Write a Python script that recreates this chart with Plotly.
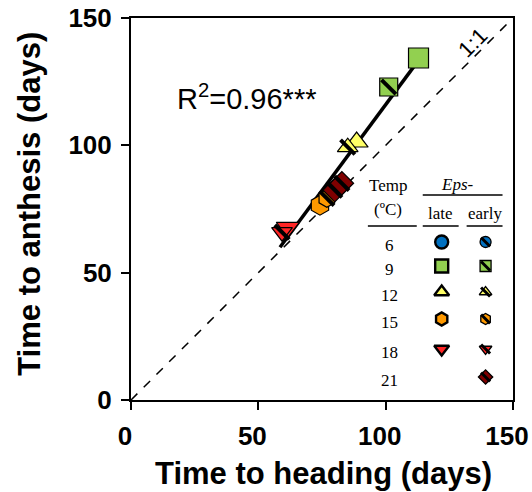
import plotly.graph_objects as go

# ---- data ----
temps = ["6", "9", "12", "15", "18", "21"]
temp_colors = ["#0070C0", "#92D050", "#FFFF66", "#FF9900", "#FF2626", "#7F0000"]
temp_symbols = ["circle", "square", "triangle-up", "hexagon", "triangle-down", "diamond"]

pt_temp = ["9", "9", "12", "12", "15", "15", "18", "18", "21", "21"]
pt_eps = ["late", "early", "late", "early", "late", "early", "late", "early", "early", "early"]
pt_heading = [112.9, 101.2, 88.6, 85.1, 74.2, 76.9, 61.6, 59.3, 80.0, 82.8]
pt_anthesis = [134.3, 122.9, 101.3, 99.3, 76.5, 79.2, 67.8, 65.9, 82.4, 85.1]

fit_heading = [58.5, 111.5]
fit_anthesis = [60.0, 131.5]

one_to_one = [0, 150]

legend_late = [True, True, True, True, True, False]
legend_early = [True, True, True, True, True, True]

x_ticks = [0, 50, 100, 150]
y_ticks = [0, 50, 100, 150]

# ---- layout geometry (screen pixels; body margin removed below) ----
W, H = 532, 492
SL, SR, ST, SB = 130.5, 513.5, 18, 400   # plot area edges in screenshot pixels
L, T = SL, ST
R = W - SR
B = H - SB
PW, PH = SR - SL, SB - ST


def px2x(px):
    return (px - SL) / PW * 150


def py2y(py):
    return (SB - py) / PH * 150


SANS = "Liberation Sans, Arial, sans-serif"
SERIF = "Liberation Serif, Times New Roman, serif"

fig = go.Figure()

# 1:1 line
fig.add_trace(go.Scatter(x=one_to_one, y=one_to_one, mode="lines",
                         line=dict(color="black", width=1.5, dash="dash"),
                         hoverinfo="skip", showlegend=False))
# regression line
fig.add_trace(go.Scatter(x=fit_heading, y=fit_anthesis, mode="lines",
                         line=dict(color="black", width=3.5),
                         hoverinfo="skip", showlegend=False))

# data points
for i in range(len(pt_heading)):
    k = temps.index(pt_temp[i])
    early = pt_eps[i] == "early"
    size = 18 if early else 20
    fig.add_trace(go.Scatter(
        x=[pt_heading[i]], y=[pt_anthesis[i]], mode="markers",
        marker=dict(symbol=temp_symbols[k], color=temp_colors[k], size=size,
                    line=dict(color="black", width=1.2)),
        showlegend=False, cliponaxis=False))
    if early:
        fig.add_trace(go.Scatter(
            x=[pt_heading[i]], y=[pt_anthesis[i]], mode="markers",
            marker=dict(symbol="line-nw", size=size * 0.8,
                        line=dict(color="black", width=4)),
            showlegend=False, hoverinfo="skip"))

# legend table (text + markers)
row_py = [245, 269, 295, 322, 352, 380]
late_px, early_px, temp_px = 442, 486, 390
leg_font = dict(family=SERIF, size=17, color="black")
for j, t in enumerate(temps):
    fig.add_annotation(x=px2x(temp_px), y=py2y(row_py[j]), text=t, showarrow=False,
                       font=leg_font, xanchor="center", yanchor="middle")
    my = py2y(row_py[j] - 3)
    if legend_late[j]:
        fig.add_trace(go.Scatter(
            x=[px2x(late_px)], y=[my], mode="markers",
            marker=dict(symbol=temp_symbols[j], color=temp_colors[j], size=13,
                        line=dict(color="black", width=2.4)),
            showlegend=False, hoverinfo="skip", cliponaxis=False))
    if legend_early[j]:
        fig.add_trace(go.Scatter(
            x=[px2x(early_px)], y=[my], mode="markers",
            marker=dict(symbol=temp_symbols[j], color=temp_colors[j], size=11,
                        line=dict(color="black", width=1.3)),
            showlegend=False, hoverinfo="skip", cliponaxis=False))
        fig.add_trace(go.Scatter(
            x=[px2x(early_px)], y=[my], mode="markers",
            marker=dict(symbol="line-nw", size=9,
                        line=dict(color="black", width=3)),
            showlegend=False, hoverinfo="skip", cliponaxis=False))

fig.add_annotation(x=px2x(388), y=py2y(185), text="Temp", showarrow=False, font=leg_font)
fig.add_annotation(x=px2x(388), y=py2y(209), text="(ºC)", showarrow=False, font=leg_font)
fig.add_annotation(x=px2x(458), y=py2y(184), text="<i>Eps-</i>", showarrow=False, font=leg_font)
fig.add_annotation(x=px2x(441), y=py2y(213), text="late", showarrow=False, font=leg_font)
fig.add_annotation(x=px2x(485), y=py2y(213), text="early", showarrow=False, font=leg_font)

for (x0, x1, yy) in [(368, 417, 226), (423, 459, 226), (467, 503, 226), (423, 503, 195)]:
    fig.add_shape(type="line", xref="x", yref="y", x0=px2x(x0), x1=px2x(x1),
                  y0=py2y(yy), y1=py2y(yy), line=dict(color="black", width=1.3))

# R2 text and 1:1 label
fig.add_annotation(x=px2x(246), y=py2y(97), text="R<sup>2</sup>=0.96***", showarrow=False,
                   font=dict(family=SANS, size=29, color="black"))
fig.add_annotation(x=px2x(473), y=py2y(42), text="1:1", showarrow=False, textangle=-45,
                   font=dict(family=SANS, size=22, color="black"))

# axis titles as annotations (paper coords from screen pixel positions)
fig.add_annotation(xref="paper", yref="paper", x=(324 - SL) / PW, y=(SB - 473) / PH,
                   text="<b>Time to heading (days)</b>", showarrow=False,
                   font=dict(family=SANS, size=31, color="black"),
                   xanchor="center", yanchor="middle")
fig.add_annotation(xref="paper", yref="paper", x=(28 - SL) / PW, y=(SB - 204) / PH,
                   text="<b>Time to anthesis (days)</b>", showarrow=False, textangle=-90,
                   font=dict(family=SANS, size=31, color="black"),
                   xanchor="center", yanchor="middle")

axis_common = dict(range=[0, 150], showgrid=False, zeroline=False, showline=True,
                   linecolor="black", linewidth=2, mirror=True, ticks="outside",
                   ticklen=8, tickwidth=2, tickcolor="black", automargin=False,
                   ticklabelstandoff=4, ticklabeloverflow="allow",
                   tickfont=dict(family=SANS, size=26, color="black", weight="bold"))
fig.update_xaxes(**axis_common, tickvals=x_ticks, ticklabelshift=-6)
fig.update_yaxes(**axis_common, tickvals=y_ticks)

fig.update_layout(width=W, height=H, margin=dict(l=L, r=R, t=T, b=B),
                  plot_bgcolor="white", paper_bgcolor="white", showlegend=False)

fig.write_html("out.html", config={"displayModeBar": False},
               post_script="document.body.style.margin='0';document.body.style.overflow='hidden';")
